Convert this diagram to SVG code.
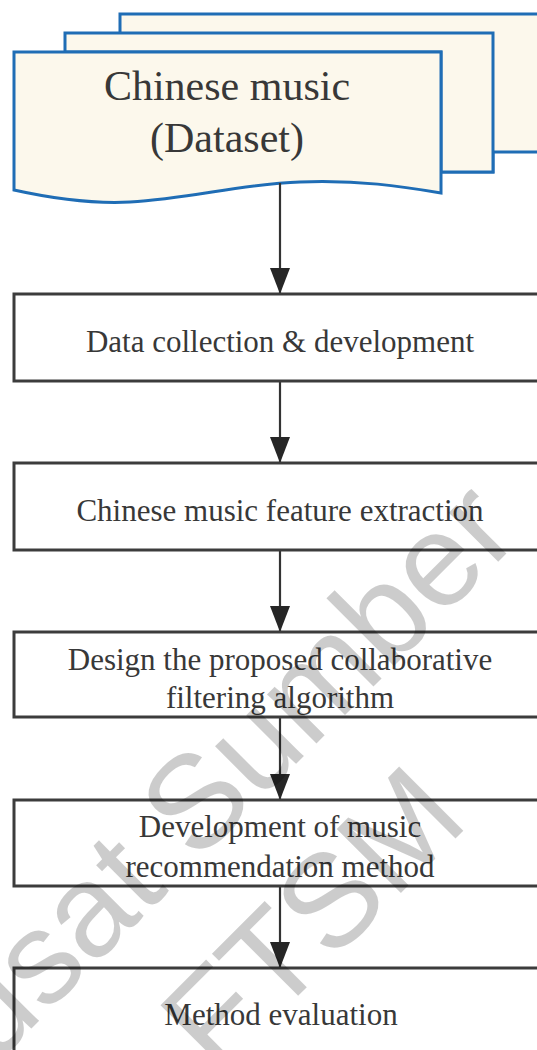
<svg xmlns="http://www.w3.org/2000/svg" width="537" height="1050" viewBox="0 0 537 1050">
  <style>
    .doc { fill: #fcf8ec; stroke: #1f6db5; stroke-width: 3; stroke-linejoin: miter; }
    .box { fill: #ffffff; stroke: #3c3c3c; stroke-width: 3; }
    .lbl { font-family: "Liberation Serif", "Times New Roman", serif; fill: #383838; text-anchor: middle; }
    .big { font-size: 42px; }
    .mid { font-size: 31px; }
    .conn { stroke: #333333; stroke-width: 2.2; fill: none; marker-end: url(#arr); }
    .wm { font-family: "Liberation Sans", Arial, sans-serif; font-size: 132px; fill: #000000; fill-opacity: 0.2; text-anchor: middle; }
  </style>
  <defs>
    <marker id="arr" markerUnits="userSpaceOnUse" markerWidth="28" markerHeight="22" viewBox="0 0 28 22" refX="27" refY="11" orient="auto">
      <path d="M1,1 L27,11 L1,21 Z" fill="#262626"/>
    </marker>
  </defs>
  <rect width="537" height="1050" fill="#ffffff"/>

  <g id="dataset">
    <path class="doc" d="M120,14 H560 V152 H493 V172 H441 V52 H120 Z"/>
    <path class="doc" d="M65,33 H493 V172 H441 V52 H65 Z"/>
    <path class="doc" d="M14,52 H441 V193 C400,186 360,180 300,182 C240,184 190,199 130,202 C90,204 50,198 14,190 Z"/>
    <text class="lbl big" x="227" y="100">Chinese music</text>
    <text class="lbl big" x="227" y="152">(Dataset)</text>
  </g>

  <g id="connectors">
    <line class="conn" x1="280" y1="183" x2="280" y2="294"/>
    <line class="conn" x1="280" y1="381" x2="280" y2="463"/>
    <line class="conn" x1="280" y1="550" x2="280" y2="632"/>
    <line class="conn" x1="280" y1="717" x2="280" y2="800"/>
    <line class="conn" x1="280" y1="886" x2="280" y2="968"/>
  </g>

  <g id="collection">
    <rect class="box" x="14" y="294" width="532" height="87"/>
    <text class="lbl mid" x="280" y="352">Data collection &amp; development</text>
  </g>
  <g id="extraction">
    <rect class="box" x="14" y="463" width="532" height="87"/>
    <text class="lbl mid" x="280" y="521">Chinese music feature extraction</text>
  </g>
  <g id="design">
    <rect class="box" x="14" y="632" width="532" height="85"/>
    <text class="lbl mid" x="280" y="670">Design the proposed collaborative</text>
    <text class="lbl mid" x="280" y="708">filtering algorithm</text>
  </g>
  <g id="development">
    <rect class="box" x="14" y="800" width="532" height="86"/>
    <text class="lbl mid" x="280" y="837">Development of music</text>
    <text class="lbl mid" x="280" y="877">recommendation method</text>
  </g>
  <g id="evaluation">
    <rect class="box" x="14" y="968" width="532" height="120"/>
    <text class="lbl mid" x="281" y="1025">Method evaluation</text>
  </g>

  <g id="watermark">
    <text class="wm" x="227" y="833" transform="rotate(-45 227 833)">Pusat Sumber</text>
    <text class="wm" x="344" y="950" transform="rotate(-45 344 950)">FTSM</text>
  </g>
</svg>
